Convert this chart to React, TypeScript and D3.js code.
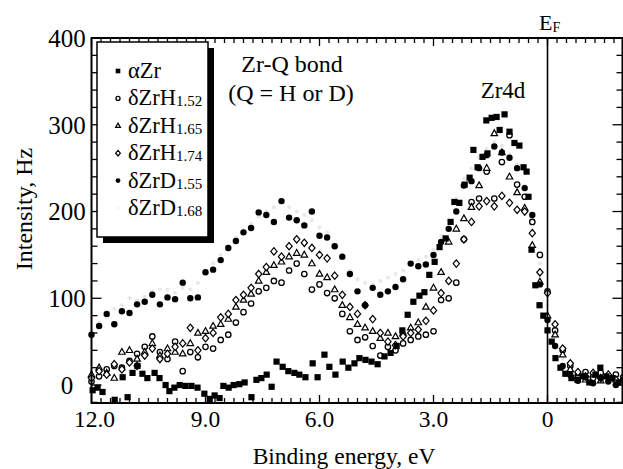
import React from "react";
import * as d3 from "d3";

// Binding energy grid (eV) shared by the hydride / deuteride series
const energyGrid = [
  12.0, 11.8, 11.6, 11.4, 11.2, 11.0, 10.8, 10.6, 10.4, 10.2,
  10.0, 9.8, 9.6, 9.4, 9.2, 9.0, 8.8, 8.6, 8.4, 8.2,
  8.0, 7.8, 7.6, 7.4, 7.2, 7.0, 6.8, 6.6, 6.4, 6.2,
  6.0, 5.8, 5.6, 5.4, 5.2, 5.0, 4.8, 4.6, 4.4, 4.2,
  4.0, 3.8, 3.6, 3.4, 3.2, 3.0, 2.8, 2.6, 2.4, 2.2,
  2.0, 1.8, 1.6, 1.4, 1.2, 1.0, 0.8, 0.6, 0.4, 0.2,
  0.0, -0.2, -0.4, -0.6, -0.8, -1.0, -1.2, -1.4, -1.6, -1.8,
  -2.0,
];

// δZrH1.52 (open circles)
const zrH152 = [
  4, 10, 18, 22, 20, 28, 36, 44, 56, 38,
  30, 50, 16, 38, 32, 44, 42, 52, 58, 72,
  84, 94, 108, 112, 120, 118, 132, 140, 128, 110,
  116, 106, 100, 82, 62, 52, 55, 45, 34, 44,
  40, 48, 52, 56, 58, 62, 98, 100, 118, 168,
  211, 215, 246, 215, 257, 288, 231, 217, 188, 150,
  108, 63, 40, 22, 12, 15, 8, 14, 10, 12,
  8,
];

// δZrH1.65 (open triangles)
const zrH165 = [
  12, 20, 14, 8, 38, 40, 30, 38, 48, 34,
  42, 38, 36, 48, 60, 62, 68, 70, 76, 90,
  98, 105, 120, 130, 138, 142, 148, 152, 150, 140,
  128, 124, 110, 92, 78, 70, 66, 62, 54, 60,
  56, 60, 66, 72, 90, 112, 130, 165, 180, 192,
  205, 230, 250, 290, 268, 240, 222, 204, 161, 119,
  80, 58, 35, 18, 10, 6, 12, 5, 11, 6,
  9,
];

// δZrH1.74 (open diamonds)
const zrH174 = [
  8, 16, 12, 24, 18, 26, 22, 34, 42, 30,
  36, 44, 48, 66, 40, 54, 60, 78, 82, 98,
  104, 112, 128, 136, 154, 148, 160, 168, 164, 158,
  150, 146, 126, 104, 90, 82, 92, 76, 60, 50,
  46, 56, 60, 64, 74, 86, 106, 120, 140, 168,
  188, 206, 212, 206, 218, 210, 202, 200, 175, 130,
  106, 70, 42, 25, 15, 10, 14, 8, 12, 6,
  10,
];

// δZrD1.55 (filled circles)
const zrD155 = [
  58, 68, 82, 70, 85, 83, 93, 96, 104, 93,
  101, 99, 118, 100, 101, 130, 133, 144, 158, 166,
  176, 181, 199, 196, 188, 212, 193, 190, 184, 200,
  172, 170, 160, 148, 128, 108, 92, 112, 104, 108,
  113, 122, 140, 137, 139, 150, 165, 180, 200, 230,
  235, 250, 265, 275, 268, 262, 250, 227, 196, 116,
  75, 45, 22, 12, 5, 9, 2, 8, 4, 0,
  6,
];

// δZrD1.68 (very faint grey points)
const zrD168 = [
  62, 72, 78, 88, 92, 100, 98, 102, 108, 110,
  110, 106, 112, 110, 118, 128, 140, 150, 160, 170,
  178, 186, 194, 200, 205, 210, 205, 200, 196, 190,
  182, 176, 162, 150, 132, 122, 118, 116, 120, 124,
  128, 132, 140, 144, 148, 156, 172, 190, 215, 238,
  250, 262, 272, 280, 276, 266, 255, 230, 190, 140,
  92, 55, 30, 15, 8, 6, 10, 4, 8, 3,
  5,
];

// αZr (filled squares): energies and intensities
const alphaZrE = [
  11.97, 11.84, 11.71, 11.39, 11.18, 11.05, 10.92, 10.79, 10.66, 10.53,
  10.34, 10.21, 10.05, 9.95, 9.82, 9.68, 9.53, 9.37, 9.21, 9.03,
  8.89, 8.76, 8.63, 8.53, 8.39, 8.26, 8.11, 7.97, 7.79, 7.66,
  7.53, 7.39, 7.26, 7.13, 6.97, 6.82, 6.66, 6.53, 6.37, 6.18,
  6.05, 5.87, 5.74, 5.58, 5.39, 5.24, 5.08, 4.95, 4.79, 4.63,
  4.47, 4.29, 4.13, 3.97, 3.82, 3.68, 3.53, 3.37, 3.24, 3.11,
  2.97, 2.84, 2.68, 2.55, 2.45, 2.32, 2.18, 2.05, 1.95, 1.84,
  1.71, 1.58, 1.61, 1.47, 1.34, 1.13, 1.26, 1.0, 0.87, 0.74,
  0.63, 0.55, 0.5, 0.42, 0.32, 0.21, 0.11, 0.0, -0.11, -0.21,
  -0.34, -0.47, -0.63, -0.79, -0.95, -1.1, -1.26, -1.39, -1.55, -1.71,
  -1.87,
];
const alphaZrV = [
  -6, -3, -8, -17, 9, -14, 14, 22, 13, 8,
  14, 8, 0, -7, -3, 0, -1, -1, -3, -10,
  -16, -12, -15, -1, -3, 0, 1, 3, -14, 6,
  8, 12, -2, 27, 21, 16, 14, 12, 9, 25,
  9, 35, 21, 12, 27, 20, 25, 31, 29, 27,
  24, 33, 37, 45, 63, 81, 96, 103, 107, 127,
  142, 159, 169, 188, 211, 210, 231, 239, 271, 251,
  263, 267, 305, 308, 309, 312, 294, 292, 279, 276,
  251, 246, 217, 156, 115, 92, 80, 63, 50, 31,
  20, 13, 8, 6, 10, 3, 12, 20, 10, 8,
  3,
];

const xTickValues = [12, 9, 6, 3, 0];
const xTickLabels = ["12.0", "9.0", "6.0", "3.0", "0"];
const yTickValues = [400, 300, 200, 100, 0];
const yTickLabels = ["400", "300", "200", "100", "0"];

const legendMain = ["αZr", "δZrH", "δZrH", "δZrH", "δZrD", "δZrD"];
const legendSub = ["", "1.52", "1.65", "1.74", "1.55", "1.68"];
const legendShape = ["square", "circle", "triangle", "diamond", "dot", "faint"];

const FONT = "'Liberation Serif', 'Times New Roman', Times, serif";
const W = 623;
const H = 469;

function Marker({ shape, cx, cy, s = 1 }: { shape: string; cx: number; cy: number; s?: number }) {
  if (shape === "square") {
    const h = 3.1 * s;
    return <rect x={cx - h} y={cy - h} width={2 * h} height={2 * h} fill="#000" />;
  }
  if (shape === "dot") {
    return <circle cx={cx} cy={cy} r={3.2 * s} fill="#000" />;
  }
  if (shape === "circle") {
    return <circle cx={cx} cy={cy} r={2.7 * s} fill="#fff" stroke="#000" strokeWidth={1.3} />;
  }
  if (shape === "triangle") {
    const r = 3.6 * s;
    const p = `M${cx},${cy - r} L${cx + r * 0.9},${cy + r * 0.6} L${cx - r * 0.9},${cy + r * 0.6} Z`;
    return <path d={p} fill="#fff" stroke="#000" strokeWidth={1.2} />;
  }
  if (shape === "diamond") {
    const r = 3.7 * s;
    const p = `M${cx},${cy - r} L${cx + r * 0.85},${cy} L${cx},${cy + r} L${cx - r * 0.85},${cy} Z`;
    return <path d={p} fill="#fff" stroke="#000" strokeWidth={1.2} />;
  }
  return <circle cx={cx} cy={cy} r={2.0 * s} fill={s < 1 ? "#f4f4f4" : "#e8e8e8"} />;
}

const txt = (size: number): React.CSSProperties => ({ fontFamily: FONT, fontSize: size });

export default function App() {
  const left = 91.5;
  const right = 623.5;
  const top = 38;
  const bottom = 403;
  const x = d3.scaleLinear().domain([12, -2]).range([left, right]);
  const y = d3.scaleLinear().domain([-20.7, 400]).range([bottom, top]);

  const xMinor = d3.range(0, 57).map((i) => 12 - i * 0.25);
  const yMinor = d3.range(-20, 401, 20);

  const gridSeries = [
    { shape: "faint", values: zrD168 },
    { shape: "circle", values: zrH152 },
    { shape: "triangle", values: zrH165 },
    { shape: "diamond", values: zrH174 },
    { shape: "dot", values: zrD155 },
  ];

  const legendX = 97;
  const legendY = 42;
  const legendW = 111;
  const legendH = 195;

  return (
    <div style={{ position: "absolute", left: 0, top: 0, width: W, height: H, background: "#fff" }}>
      <svg width={W} height={H} style={{ display: "block" }}>
        <rect x={0} y={0} width={W} height={H} fill="#fff" />

        {/* data */}
        {gridSeries.map((s) => (
          <g key={s.shape}>
            {s.values.map((v, i) => (
              <Marker key={i} shape={s.shape} cx={x(energyGrid[i])} cy={y(v)} />
            ))}
          </g>
        ))}
        <g>
          {alphaZrV.map((v, i) => (
            <Marker key={i} shape="square" cx={x(alphaZrE[i])} cy={y(v)} />
          ))}
        </g>

        {/* frame */}
        <g stroke="#000" fill="none">
          <line x1={left} x2={right} y1={top} y2={top} strokeWidth={2} />
          <line x1={left} x2={right} y1={bottom} y2={bottom} strokeWidth={2} />
          <line x1={left} x2={left} y1={top - 1} y2={bottom + 1} strokeWidth={2} />
          <line x1={622.5} x2={622.5} y1={top} y2={bottom} strokeWidth={2} />
          {/* Fermi level */}
          <line x1={x(0)} x2={x(0)} y1={top} y2={bottom} strokeWidth={1.6} />
          {xMinor.map((e, i) => {
            const major = xTickValues.includes(e);
            const len = major ? 8 : 5;
            return (
              <g key={"xt" + i}>
                <line x1={x(e)} x2={x(e)} y1={top} y2={top + len} strokeWidth={1.3} />
                <line x1={x(e)} x2={x(e)} y1={bottom} y2={bottom - len} strokeWidth={1.3} />
              </g>
            );
          })}
          {yMinor.map((v, i) => {
            const major = v % 100 === 0;
            const len = major ? 10 : 6;
            return (
              <g key={"yt" + i}>
                <line x1={left} x2={left + len} y1={y(v)} y2={y(v)} strokeWidth={1.3} />
                <line x1={622.5} x2={622.5 - len} y1={y(v)} y2={y(v)} strokeWidth={1.3} />
              </g>
            );
          })}
        </g>

        {/* tick labels */}
        {yTickValues.map((v, i) => (
          <text key={"yl" + i} x={67} y={y(v)} dy="0.35em" textAnchor="middle" style={txt(25)} fill="#000">
            {yTickLabels[i]}
          </text>
        ))}
        {xTickValues.map((v, i) => (
          <text key={"xl" + i} x={x(v) + (i === 0 ? 3 : 0)} y={427} textAnchor="middle" style={txt(23.5)} fill="#000">
            {xTickLabels[i]}
          </text>
        ))}

        {/* axis titles */}
        <text x={344} y={464} textAnchor="middle" style={txt(23.5)} fill="#000">
          Binding energy, eV
        </text>
        <text transform="translate(32,209) rotate(-90)" textAnchor="middle" style={txt(24)} fill="#000">
          Intensity, Hz
        </text>

        {/* annotations */}
        <text x={292} y={72} textAnchor="middle" style={txt(24)} fill="#000">
          Zr-Q bond
        </text>
        <text x={291} y={101} textAnchor="middle" style={txt(24)} fill="#000">
          (Q = H or D)
        </text>
        <text x={503} y={98} textAnchor="middle" style={txt(23)} fill="#000">
          Zr4d
        </text>
        <text x={539} y={30} style={txt(22)} fill="#000">
          E<tspan style={{ fontSize: 14 }} dy={2}>F</tspan>
        </text>

        {/* legend */}
        <rect x={legendX + 6} y={legendY + 6} width={legendW} height={legendH} fill="#000" />
        <rect x={legendX} y={legendY} width={legendW} height={legendH} fill="#fff" stroke="#000" strokeWidth={1.5} />
        {legendMain.map((m, i) => {
          const by = 78 + i * 27.4;
          return (
            <g key={"lg" + i}>
              <Marker shape={legendShape[i]} cx={118} cy={by - 7} s={0.75} />
              <text x={128} y={by} style={txt(22.5)} fill="#000">
                {m}
                {legendSub[i] ? (
                  <tspan style={{ fontSize: 15 }} dy={1}>
                    {legendSub[i]}
                  </tspan>
                ) : null}
              </text>
            </g>
          );
        })}
      </svg>
    </div>
  );
}
